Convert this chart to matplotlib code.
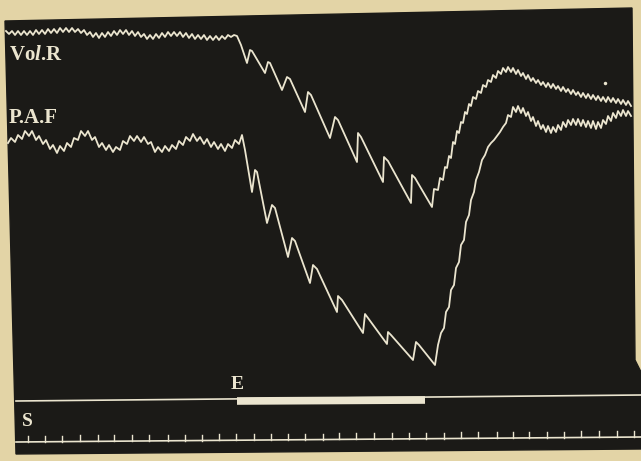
import numpy as np
import matplotlib
matplotlib.use("Agg")
import matplotlib.pyplot as plt

# kymograph trace in pixel units (x right, y down)
volr_x = [6, 9, 12, 15, 18, 21, 24, 27, 30, 33, 36, 39, 42, 45, 48, 51, 54, 57, 60, 63,
          66, 69, 72, 75, 78, 81, 84, 87, 90, 93, 96, 99, 102, 105, 108, 111, 114, 117, 120, 123,
          126, 129, 132, 135, 138, 141, 144, 147, 150, 153, 156, 159, 162, 165, 168, 171, 174, 177, 180, 183,
          186, 189, 192, 195, 198, 201, 204, 207, 210, 213, 216, 219, 222, 225, 228, 231, 234,
          237, 241, 247, 250, 252, 265, 268, 270, 282, 287, 290, 305, 308, 311, 330, 335, 338, 357,
          358, 361, 383, 384, 388, 411, 412, 415, 432,
          434, 438, 440, 443, 445, 447, 449, 451, 453, 455, 457, 459, 461, 463, 465, 467, 469, 471, 473, 476,
          478, 481, 483, 486, 488, 491, 493, 496, 498, 501, 503, 506, 508, 511, 513, 516, 518, 521, 523, 526,
          528, 531, 533, 536, 538, 541, 543, 546, 548, 551, 553, 556, 558, 561, 563, 566, 568, 571, 573, 576,
          578, 581, 583, 586, 588, 591, 593, 596, 598, 601, 603, 606, 608, 611, 613, 616, 618, 621, 623, 626,
          628, 631]
volr_y = [31, 34, 31, 35, 31, 35, 31, 35, 31, 35, 30, 34, 30, 34, 29, 33, 29, 33, 28, 32,
          28, 32, 28, 32, 29, 33, 30, 35, 32, 37, 33, 38, 33, 37, 32, 36, 31, 35, 30, 34,
          30, 35, 31, 36, 32, 37, 34, 39, 35, 39, 34, 38, 33, 37, 32, 36, 32, 36, 32, 37,
          33, 38, 34, 39, 35, 39, 35, 40, 36, 40, 36, 40, 36, 39, 35, 37, 35,
          36, 45, 63, 50, 51, 73, 62, 63, 90, 77, 79, 112, 92, 95, 138, 117, 120, 162,
          133, 137, 182, 157, 161, 203, 175, 178, 207,
          189, 190, 178, 180, 167, 168, 156, 158, 142, 144, 131, 133, 122, 123, 112, 114, 104, 106, 97, 99,
          91, 93, 85, 87, 80, 82, 75, 78, 71, 74, 68, 72, 67, 72, 68, 74, 70, 76, 73, 79,
          75, 81, 78, 83, 80, 85, 82, 87, 83, 88, 84, 89, 86, 91, 87, 92, 89, 94, 90, 95,
          92, 97, 93, 98, 94, 99, 95, 100, 96, 101, 97, 102, 97, 102, 98, 103, 99, 104, 100, 105,
          101, 106]

paf_x = [8, 11, 15, 18, 22, 25, 29, 32, 36, 39, 43, 46, 50, 53, 57, 60, 64, 67, 71, 74,
         78, 81, 85, 88, 92, 95, 99, 102, 106, 109, 113, 116, 120, 123, 127, 130, 134, 137, 141, 144,
         148, 151, 155, 158, 162, 165, 169, 172, 176, 179, 183, 186, 190, 193, 197, 200, 204, 207, 211, 214,
         218, 221, 225, 228, 232, 235, 239, 242,
         245, 252, 255, 257, 267, 272, 275, 288, 292, 295, 310, 313, 317, 337, 338, 342, 363,
         365, 368, 387, 388, 391, 413, 416, 419, 435,
         438, 441, 444, 446, 449, 451, 454, 456, 459, 461, 464, 466, 469, 471, 474, 476, 479, 482, 485, 488,
         491, 494, 497, 500, 503, 506, 508, 511, 513, 516, 518, 521, 523, 526, 528, 531, 533, 536, 538, 541,
         543, 546, 548, 551, 553, 556, 558, 561, 563, 566, 568, 571, 573, 576, 578, 581, 583, 586, 588, 591,
         593, 596, 598, 601, 603, 606, 608, 611, 613, 616, 618, 621, 623, 626, 628, 631]
paf_y = [143, 138, 142, 135, 139, 131, 136, 131, 140, 136, 144, 140, 149, 145, 153, 146, 151, 143, 147, 138,
         140, 131, 136, 131, 140, 137, 147, 143, 150, 145, 152, 147, 150, 141, 144, 136, 141, 136, 142, 137,
         144, 142, 152, 147, 152, 146, 151, 145, 149, 141, 145, 137, 141, 134, 141, 137, 144, 139, 147, 142,
         149, 144, 151, 144, 148, 140, 144, 135,
         150, 192, 170, 172, 223, 205, 208, 257, 238, 241, 283, 265, 269, 312, 296, 300, 333,
         314, 318, 344, 332, 335, 360, 342, 345, 365,
         345, 333, 328, 312, 307, 290, 285, 268, 262, 245, 240, 222, 215, 200, 192, 180, 172, 160, 155, 147,
         143, 140, 136, 132, 127, 123, 115, 117, 107, 112, 106, 113, 108, 116, 112, 121, 117, 126, 121, 129,
         125, 132, 126, 133, 127, 132, 125, 130, 122, 127, 120, 125, 119, 125, 119, 126, 120, 127, 121, 128,
         121, 129, 122, 128, 120, 124, 116, 121, 113, 118, 111, 116, 110, 116, 111, 116]

# signal line E (stimulus) and its thick part
e_x = [16, 641]
e_y = [401, 395]
e_on = [237, 425]
e_bar_y = 401

# time marker S, one tick per second
s_ticks = [28, 45, 62, 80, 98, 114, 132, 149, 168, 185, 202, 219, 236, 254, 271, 288, 305, 323,
           339, 356, 374, 392, 409, 426, 444, 461, 478, 497, 513, 529, 547, 564, 581, 599, 617, 634]
s_base = [442, 437]  # left / right of the baseline

speck = (605, 83)

paper = "#e3d4a6"
board = "#1b1a17"
ink = "#ebe5cf"

plt.rcParams["mathtext.fontset"] = "custom"
plt.rcParams["mathtext.rm"] = "Liberation Serif:bold"
plt.rcParams["mathtext.it"] = "Liberation Serif:italic:bold"

fig = plt.figure(figsize=(6.41, 4.61), dpi=100, facecolor=paper)
ax = fig.add_axes([0, 0, 1, 1])
ax.set_xlim(0, 641)
ax.set_ylim(461, 0)
ax.axis("off")

# the blackened paper of the drum, slightly skewed
ax.fill([5, 632, 635, 641, 641, 16], [21, 8, 360, 372, 449, 454], color=board, zorder=0)

ax.plot(volr_x, volr_y, color=ink, lw=1.3, solid_joinstyle="round")
ax.plot(paf_x, paf_y, color=ink, lw=1.3, solid_joinstyle="round")
ax.plot(*speck, "o", color=ink, ms=2.5, mec="none")

ax.plot(e_x, e_y, color=ink, lw=1.2)
ax.plot(e_on, [e_bar_y, e_bar_y - 1], color=ink, lw=5.5, solid_capstyle="butt")

ax.plot([16, 641], s_base, color=ink, lw=1.2)
for tx in s_ticks:
    yb = np.interp(tx, [16, 641], s_base)
    ax.plot([tx, tx], [yb, yb - 6], color=ink, lw=1.0)

font = dict(color=ink, family="Liberation Serif", weight="bold", va="center", ha="left")
ax.text(9, 55, r"Vo$\mathit{l}$.R", fontsize=15, **font)
ax.text(9, 118, "P.A.F", fontsize=15, **font)
ax.text(231, 384, "E", fontsize=14, **font)
ax.text(22, 421, "S", fontsize=14, **font)

fig.savefig("out.png", dpi=100, facecolor=paper)
